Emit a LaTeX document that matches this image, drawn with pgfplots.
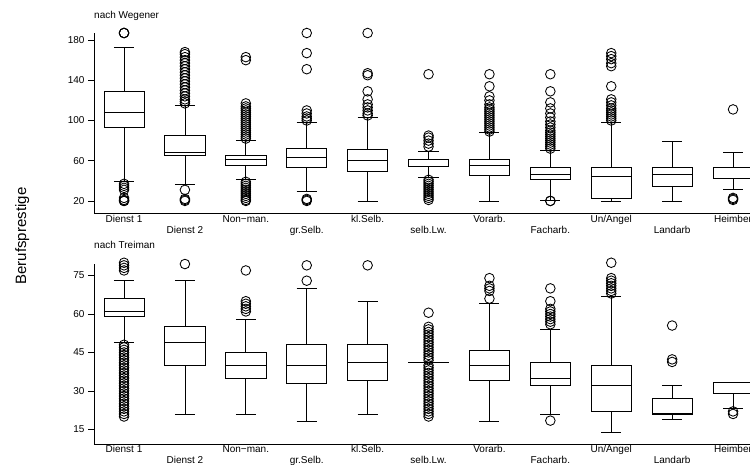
\documentclass[border=0pt]{standalone}
\usepackage{fontspec}
\setmainfont{Liberation Sans}
\usepackage{pgfplots}
\pgfplotsset{compat=1.18}
\usepgfplotslibrary{statistics}

\pgfplotsset{
  bx/.style={black, line width=0.75pt, solid, mark=o, mark size=4.8pt,
    mark options={black, line width=0.85pt, solid}},
  panel/.style={
    scale only axis, width=669.5pt, height=180pt,
    xmin=0.507, xmax=11.5, clip=false,
    axis x line*=bottom, axis y line*=left,
    axis line style={-, line width=0.75pt, black},
    tick align=outside, major tick length=6pt,
    ytick style={black, line width=0.75pt},
    xtick style={draw=none},
    every tick label/.append style={font=\fontsize{10}{12}\selectfont},
    xticklabel style={yshift=7pt},
    /pgf/number format/assume math mode=true,
    xtick={1,3,5,7,9,11},
    xticklabels={Dienst 1,Non−man.,kl.Selb.,Vorarb.,Un/Angel,Heimber},
    extra x ticks={2,4,6,8,10},
    extra x tick labels={Dienst 2,gr.Selb.,selb.Lw.,Facharb.,Landarb},
    extra x tick style={tick style={draw=none}, tick label style={yshift=-11pt}},
    boxplot/box extend=0.66, boxplot/whisker extend=0.33,
    boxplot/draw direction=y,
    title style={at={(0,1)}, anchor=base west, inner sep=0pt,
      font=\fontsize{10}{12}\selectfont},
  },
}

\begin{document}
\begin{tikzpicture}
\path[use as bounding box] (0,0) rectangle (750pt,-465pt);

% nach Wegener
\begin{axis}[panel, at={(94pt,-213pt)}, anchor=south west,
  ymin=8, ymax=187, ytick={20,60,100,140,180},
  title={nach Wegener}, title style={yshift=8.5pt}]
\addplot[bx, boxplot prepared={draw position=1, lower whisker=39, lower quartile=93, median=108, upper quartile=129, upper whisker=173}]
  table[row sep=\\, y index=0] {v\\ 187\\ 187\\ 187\\ 37\\ 35\\ 33\\ 31\\ 23\\ 21\\ 20\\ 20\\};
\addplot[bx, boxplot prepared={draw position=2, lower whisker=36, lower quartile=65, median=68, upper quartile=85, upper whisker=115}]
  table[row sep=\\, y index=0] {v\\ 117\\ 119\\ 121\\ 124\\ 127\\ 130\\ 133\\ 136\\ 139\\ 142\\ 145\\ 148\\ 151\\ 154\\ 157\\ 160\\ 163\\ 166\\ 168\\ 31\\ 22\\ 21\\ 20\\};
\addplot[bx, boxplot prepared={draw position=3, lower whisker=41, lower quartile=55, median=61, upper quartile=65, upper whisker=80}]
  table[row sep=\\, y index=0] {v\\ 82\\ 84\\ 86\\ 88\\ 90\\ 92\\ 94\\ 96\\ 98\\ 100\\ 102\\ 104\\ 106\\ 108\\ 110\\ 112\\ 114\\ 117\\ 160\\ 163\\ 39\\ 37\\ 35\\ 33\\ 31\\ 29\\ 27\\ 25\\ 23\\ 21\\ 20\\};
\addplot[bx, boxplot prepared={draw position=4, lower whisker=30, lower quartile=53, median=63, upper quartile=72, upper whisker=98}]
  table[row sep=\\, y index=0] {v\\ 100\\ 102\\ 104\\ 107\\ 110\\ 151\\ 167\\ 187\\ 22\\ 21\\ 20\\};
\addplot[bx, boxplot prepared={draw position=5, lower whisker=20, lower quartile=49, median=60, upper quartile=71, upper whisker=103}]
  table[row sep=\\, y index=0] {v\\ 105\\ 107\\ 110\\ 113\\ 116\\ 121\\ 129\\ 145\\ 147\\ 187\\};
\addplot[bx, boxplot prepared={draw position=6, lower whisker=43, lower quartile=54, median=54, upper quartile=61, upper whisker=69}]
  table[row sep=\\, y index=0] {v\\ 74\\ 77\\ 80\\ 83\\ 85\\ 146\\ 41\\ 39\\ 37\\ 35\\ 33\\ 31\\ 29\\ 27\\ 25\\ 23\\ 21\\};
\addplot[bx, boxplot prepared={draw position=7, lower whisker=20, lower quartile=45, median=55, upper quartile=61.5, upper whisker=88}]
  table[row sep=\\, y index=0] {v\\ 89\\ 91\\ 93\\ 95\\ 97\\ 99\\ 101\\ 103\\ 105\\ 107\\ 109\\ 111\\ 113\\ 116\\ 120\\ 124\\ 134\\ 146\\};
\addplot[bx, boxplot prepared={draw position=8, lower whisker=21, lower quartile=41, median=46, upper quartile=53.5, upper whisker=70}]
  table[row sep=\\, y index=0] {v\\ 72\\ 74\\ 76\\ 78\\ 80\\ 82\\ 84\\ 86\\ 88\\ 90\\ 93\\ 96\\ 99\\ 103\\ 107\\ 112\\ 118\\ 129\\ 146\\ 20\\ 20\\};
\addplot[bx, boxplot prepared={draw position=9, lower whisker=20, lower quartile=23, median=44, upper quartile=53.5, upper whisker=98.5}]
  table[row sep=\\, y index=0] {v\\ 100\\ 102\\ 104\\ 106\\ 108\\ 110\\ 112\\ 115\\ 118\\ 121\\ 134\\ 154\\ 157\\ 161\\ 164\\ 167\\};
\addplot[bx, boxplot prepared={draw position=10, lower whisker=20, lower quartile=34, median=46, upper quartile=53.5, upper whisker=79}]
  coordinates {};
\addplot[bx, boxplot prepared={draw position=11, lower whisker=31, lower quartile=42, median=42, upper quartile=53.5, upper whisker=68}]
  table[row sep=\\, y index=0] {v\\ 111\\ 23\\ 22\\ 21\\};
\end{axis}

% nach Treiman
\begin{axis}[panel, at={(94pt,-444.3pt)}, anchor=south west,
  ymin=9.16, ymax=79.4, ytick={15,30,45,60,75},
  xticklabel style={yshift=1.5pt},
  title={nach Treiman}, title style={yshift=9.5pt}]
\addplot[bx, boxplot prepared={draw position=1, lower whisker=49, lower quartile=59, median=61, upper quartile=66, upper whisker=73}]
  table[row sep=\\, y index=0] {v\\ 77\\ 78\\ 79\\ 80\\ 48\\ 47\\ 46\\ 45\\ 44\\ 43\\ 42\\ 41\\ 40\\ 39\\ 38\\ 37\\ 36\\ 35\\ 34\\ 33\\ 32\\ 31\\ 30\\ 29\\ 28\\ 27\\ 26\\ 25\\ 24\\ 23\\ 22\\ 21\\ 20\\};
\addplot[bx, boxplot prepared={draw position=2, lower whisker=21, lower quartile=40, median=49, upper quartile=55, upper whisker=73}]
  table[row sep=\\, y index=0] {v\\ 79.5\\};
\addplot[bx, boxplot prepared={draw position=3, lower whisker=21, lower quartile=35, median=40, upper quartile=45, upper whisker=58}]
  table[row sep=\\, y index=0] {v\\ 61\\ 62\\ 63\\ 64\\ 65\\ 77\\};
\addplot[bx, boxplot prepared={draw position=4, lower whisker=18, lower quartile=33, median=40, upper quartile=48, upper whisker=70}]
  table[row sep=\\, y index=0] {v\\ 73\\ 79\\};
\addplot[bx, boxplot prepared={draw position=5, lower whisker=21, lower quartile=34, median=41, upper quartile=48, upper whisker=65}]
  table[row sep=\\, y index=0] {v\\ 79\\};
\addplot[bx, boxplot prepared={draw position=6, lower whisker=41, lower quartile=41, median=41, upper quartile=41, upper whisker=41}]
  table[row sep=\\, y index=0] {v\\ 60.5\\ 55\\ 54\\ 53\\ 52\\ 51\\ 50\\ 49\\ 48\\ 47\\ 46\\ 45\\ 44\\ 43\\ 42\\ 40\\ 39\\ 38\\ 37\\ 36\\ 35\\ 34\\ 33\\ 32\\ 31\\ 30\\ 29\\ 28\\ 27\\ 26\\ 25\\ 24\\ 23\\ 22\\ 21\\ 20\\};
\addplot[bx, boxplot prepared={draw position=7, lower whisker=18, lower quartile=34, median=40, upper quartile=46, upper whisker=64}]
  table[row sep=\\, y index=0] {v\\ 66\\ 69\\ 70\\ 71\\ 74\\};
\addplot[bx, boxplot prepared={draw position=8, lower whisker=21, lower quartile=32, median=35, upper quartile=41, upper whisker=54}]
  table[row sep=\\, y index=0] {v\\ 56\\ 57\\ 58\\ 59\\ 60\\ 61\\ 62\\ 65\\ 70\\ 18.4\\};
\addplot[bx, boxplot prepared={draw position=9, lower whisker=14, lower quartile=22, median=32, upper quartile=40, upper whisker=67}]
  table[row sep=\\, y index=0] {v\\ 68\\ 69\\ 70\\ 71\\ 72\\ 73\\ 74\\ 80\\};
\addplot[bx, boxplot prepared={draw position=10, lower whisker=19, lower quartile=21, median=21.3, upper quartile=27, upper whisker=32}]
  table[row sep=\\, y index=0] {v\\ 41.3\\ 42.3\\ 55.5\\};
\addplot[bx, boxplot prepared={draw position=11, lower whisker=23, lower quartile=29, median=33.4, upper quartile=33.4, upper whisker=33.4}]
  table[row sep=\\, y index=0] {v\\ 21\\ 22\\};
\end{axis}

\node[rotate=90, anchor=base, inner sep=0pt, font=\fontsize{15}{18}\selectfont]
  at (26pt,-236pt) {Berufsprestige};
\end{tikzpicture}
\end{document}
